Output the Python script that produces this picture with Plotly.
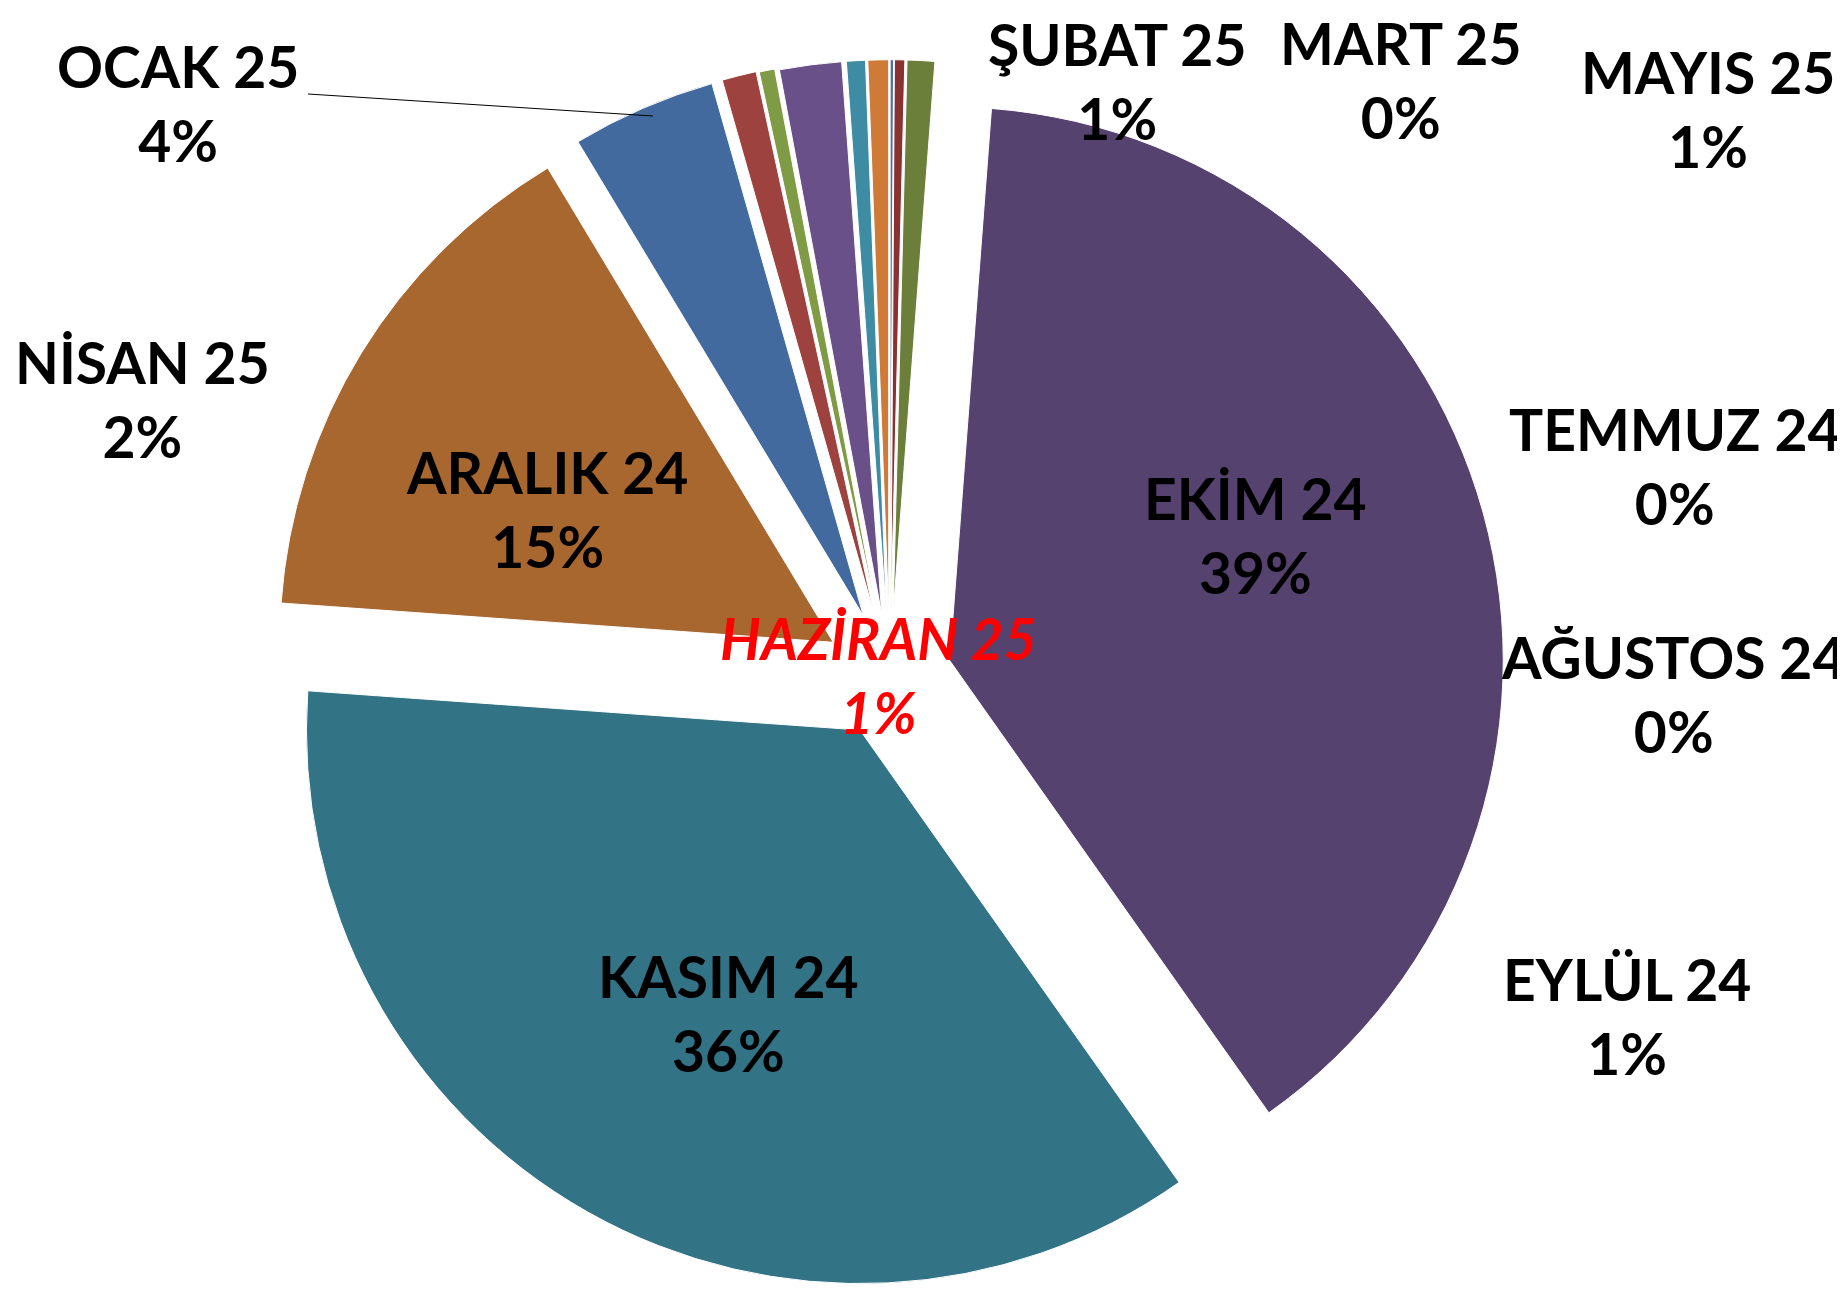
import plotly.graph_objects as go

# aylar ve oranlar (%)
months = ['TEMMUZ 24', 'AĞUSTOS 24', 'EYLÜL 24', 'EKİM 24', 'KASIM 24', 'ARALIK 24',
          'OCAK 25', 'ŞUBAT 25', 'MART 25', 'NİSAN 25', 'MAYIS 25', 'HAZİRAN 25']
shares = [0.1, 0.3, 0.8, 38.9, 35.8, 15.2, 4.2, 1.0, 0.45, 1.8, 0.55, 0.6]

colors = ['#4f6fa0', '#8a3230', '#6b7f3a', '#55426f', '#337386', '#a8672f',
          '#436a9e', '#9e4240', '#7f9b45', '#6a5088', '#3e8ca3', '#cf7b37']
pulls = [0.115, 0.115, 0.115, 0.112, 0.11, 0.12, 0.12, 0.12, 0.118, 0.115, 0.115, 0.115]

W, H = 1845, 1289

# etiket yerleri (piksel, metin blogunun merkezi)
label_pos = {
    'TEMMUZ 24': (1667, 458), 'AĞUSTOS 24': (1665, 686), 'EYLÜL 24': (1619, 1008),
    'EKİM 24': (1247, 527), 'KASIM 24': (720, 1005), 'ARALIK 24': (539, 501),
    'OCAK 25': (170, 95), 'ŞUBAT 25': (1109, 73), 'MART 25': (1392, 72),
    'NİSAN 25': (134, 391), 'MAYIS 25': (1700, 101), 'HAZİRAN 25': (870, 667),
}

fig = go.Figure()
fig.add_trace(go.Pie(
    labels=months,
    values=shares,
    sort=False,
    direction='clockwise',
    rotation=0,
    pull=pulls,
    marker=dict(colors=colors, line=dict(color='white', width=1)),
    textinfo='none',
    hoverinfo='label+percent',
    domain=dict(x=[0, 0.956], y=[0, 0.962]),
))

total = sum(shares)
annotations = []
for m, v in zip(months, shares):
    px, py = label_pos[m]
    pct = round(v / total * 100)
    is_red = m == 'HAZİRAN 25'
    annotations.append(dict(
        x=px / W, y=1 - py / H, xref='paper', yref='paper',
        text=f'{m}<br>{pct}%', showarrow=False, align='center',
        xanchor='center', yanchor='middle',
        font=dict(family='Lato', size=57, weight='bold',
                  color='#ff0000' if is_red else '#000000',
                  style='italic' if is_red else 'normal'),
    ))

fig.update_layout(
    width=W, height=H,
    margin=dict(l=0, r=0, t=0, b=0),
    paper_bgcolor='white',
    showlegend=False,
    annotations=annotations,
    # OCAK 25 etiket cizgisi
    shapes=[dict(type='line', xref='paper', yref='paper',
                 x0=300 / W, y0=1 - 86 / H, x1=645 / W, y1=1 - 108 / H,
                 line=dict(color='black', width=1))],
)

fig.write_html("out.html")
